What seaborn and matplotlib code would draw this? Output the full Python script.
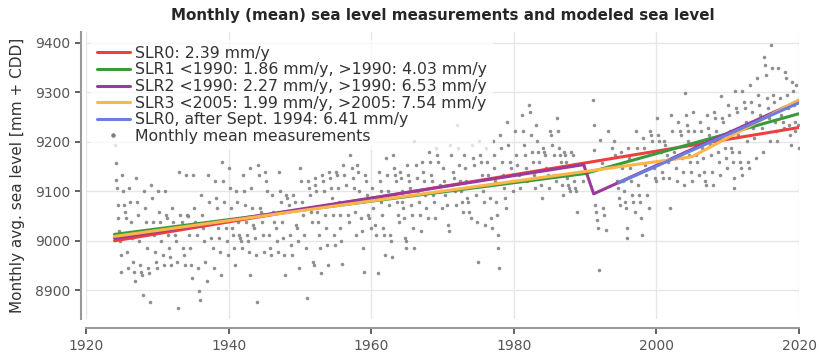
import matplotlib
matplotlib.use('Agg')
import matplotlib.pyplot as plt
import seaborn as sns
import pandas as pd

# monthly mean sea level [mm + CDD], one inner list per year
first_year_1920s = 1924
levels_1920s = [
    [9194, 9157, 9123, 9106, 9073, 9046, 9019, 8999, 8972, 8938],
    [9133, 9100, 9073, 9059, 9046, 9012, 8978, 8945],
    [9106, 9079, 9039, 9005, 8958, 8938, 8918],
    [9127, 9079, 9053, 8999, 8952, 8938, 8931, 8891],
    [9100, 9066, 9039, 8985, 8945, 8935, 8877],
    [9113, 9086, 9039, 9012, 8978, 8958, 8945],
]
first_year_1930s = 1930
levels_1930s = [
    [9100, 9059, 9039, 8999, 8972, 8952],
    [9100, 9053, 9046, 9012, 8985, 8968, 8952],
    [9066, 9039, 9012, 8999, 8958, 8864],
    [9140, 9053, 9039, 8985, 8972, 8952],
    [9133, 9053, 9050, 9012, 8985, 8952, 8925],
    [9133, 9066, 9039, 9012, 8945, 8898, 8880],
    [9093, 9053, 9026, 8999, 8958, 8918],
    [9133, 9079, 9039, 9005, 8985, 8945],
    [9120, 9086, 9066, 9026, 9005, 8978, 8931],
    [9160, 9120, 9079, 9026, 8999, 8972],
]
first_year_1940s = 1940
levels_1940s = [
    [9147, 9106, 9066, 9026, 9012, 8985, 8952],
    [9100, 9079, 9039, 9012, 9005, 8999, 8985],
    [9133, 9100, 9073, 9039, 9012, 8999, 8978, 8931],
    [9147, 9106, 9066, 9032, 9026, 9005, 8972, 8877],
    [9154, 9133, 9066, 9059, 9039, 9012, 8978],
    [9140, 9120, 9100, 9053, 9012, 8985, 8972],
    [9093, 9059, 9039, 9026, 8999, 8978],
    [9140, 9100, 9079, 9039, 9005, 8972, 8931],
    [9093, 9086, 9073, 9012, 8992, 8972],
    [9093, 9079, 9032, 9026, 8999, 8945],
]
first_year_1950s = 1950
levels_1950s = [
    [9147, 9120, 9079, 9053, 9012, 8985, 8884],
    [9120, 9106, 9093, 9059, 9039, 8958, 8952],
    [9127, 9113, 9100, 9059, 9039, 9012, 8985, 8935],
    [9133, 9120, 9100, 9053, 9026, 8992, 8952],
    [9140, 9127, 9106, 9086, 9053, 9012, 8992],
    [9140, 9133, 9106, 9079, 9053, 9026, 8999, 8953],
    [9154, 9133, 9113, 9079, 9053, 9039],
    [9174, 9147, 9127, 9106, 9059, 9012],
    [9154, 9140, 9100, 9046, 9019, 8985, 8938],
    [9133, 9120, 9093, 9053, 9046, 9026],
]
first_year_1960s = 1960
levels_1960s = [
    [9106, 9066, 9032, 9012, 8935],
    [9140, 9120, 9100, 9079, 9053, 9026, 9012, 8972],
    [9167, 9133, 9100, 9086, 9073, 9012, 8999, 8967],
    [9174, 9147, 9133, 9120, 9079, 9053, 9039],
    [9140, 9127, 9100, 9079, 9066, 9046, 9005, 8999, 8985],
    [9154, 9133, 9120, 9106, 9073, 9053, 9026, 8985],
    [9201, 9154, 9127, 9100, 9079, 9053, 9019],
    [9160, 9140, 9120, 9093, 9066, 9046],
    [9180, 9160, 9133, 9120, 9093, 9079, 9046],
    [9187, 9174, 9160, 9113, 9100, 9066],
]
first_year_1970s = 1970
levels_1970s = [
    [9147, 9120, 9093, 9073, 9032, 9019],
    [9194, 9174, 9140, 9127, 9100, 9073],
    [9234, 9187, 9154, 9120, 9100, 9079, 9059],
    [9174, 9147, 9120, 9086, 9079, 9059, 9046],
    [9194, 9167, 9154, 9120, 9093, 9039, 8958],
    [9201, 9174, 9160, 9133, 9100, 9079, 9032],
    [9187, 9160, 9133, 9113, 9086, 9046, 9026],
    [9201, 9174, 9147, 9120, 9079, 9053, 9012, 8985, 8945],
    [9214, 9187, 9160, 9133, 9106, 9086, 9066],
    [9241, 9194, 9160, 9147, 9120, 9100],
]
first_year_1980s = 1980
levels_1980s = [
    [9221, 9174, 9154, 9133, 9106],
    [9255, 9221, 9194, 9174, 9147, 9120],
    [9275, 9261, 9214, 9180, 9160, 9133, 9106],
    [9234, 9201, 9180, 9160, 9113, 9086],
    [9187, 9180, 9174, 9147, 9133, 9106],
    [9221, 9214, 9194, 9174, 9133, 9120],
    [9248, 9221, 9187, 9174, 9160, 9113, 9093],
    [9180, 9174, 9160, 9127, 9113, 9106, 9100],
    [9180, 9174, 9120, 9106, 9100, 9059],
    [9140, 9120],
]
first_year_1990s = 1991
levels_1990s = [
    [9285, 9234, 9184, 9073, 9059, 9042, 9026, 8941],
    [9204, 9157, 9066, 9053, 9022],
    [9221, 9187],
    [9201, 9174, 9120, 9106, 9086, 9073],
    [9180, 9147, 9120, 9100, 9079, 9066, 9026, 9005],
    [9187, 9167, 9147, 9120, 9093, 9079, 9059],
    [9221, 9187, 9113, 9093, 9079, 9046, 9012],
    [9207, 9187, 9154, 9133, 9093, 9066],
    [9221, 9214, 9201, 9180, 9147, 9127, 9120],
]
first_year_2000s = 2000
levels_2000s = [
    [9248, 9214, 9201, 9180, 9140, 9127],
    [9201, 9194, 9174, 9160, 9127, 9066],
    [9255, 9221, 9180, 9167, 9147, 9120],
    [9241, 9221, 9214, 9167, 9140, 9113],
    [9298, 9255, 9234, 9221, 9201, 9174, 9160, 9140, 9120],
    [9261, 9221, 9194, 9174, 9160, 9133],
    [9241, 9221, 9187, 9167, 9140, 9120, 9113],
    [9255, 9228, 9214, 9194, 9174, 9140, 9113],
    [9261, 9248, 9221, 9201, 9180, 9160, 9133],
    [9292, 9248, 9241, 9214, 9187, 9167, 9147],
]
first_year_2010s = 2010
levels_2010s = [
    [9275, 9255, 9221, 9187, 9180, 9160, 9127, 9106],
    [9302, 9268, 9261, 9214, 9180, 9160, 9147, 9133],
    [9302, 9281, 9268, 9241, 9201, 9160, 9147],
    [9315, 9281, 9261, 9228, 9207, 9167],
    [9329, 9295, 9275, 9255, 9228, 9180],
    [9372, 9356, 9335, 9288, 9268, 9248, 9201],
    [9396, 9349, 9295, 9281, 9241, 9221, 9201],
    [9349, 9288, 9255, 9241, 9228],
    [9342, 9329, 9295, 9268, 9234, 9214, 9194],
    [9322, 9302, 9275, 9241, 9221, 9315, 9281, 9234, 9187],
]

# modelled sea level, break points [year], [mm]
slr0_t = [1924, 2020]
slr0_v = [9000, 9229]
slr1_t = [1924, 1990, 2020]
slr1_v = [9013, 9136, 9257]
slr2_t = [1924, 1989.8, 1991.2, 2020]
slr2_v = [9005, 9154, 9095, 9283]
slr3_t = [1924, 2005, 2020]
slr3_v = [9009, 9170, 9285]
slr0b_t = [1994.7, 2020]
slr0b_v = [9117, 9279]

labels = ['SLR0: 2.39 mm/y',
          'SLR1 <1990: 1.86 mm/y, >1990: 4.03 mm/y',
          'SLR2 <1990: 2.27 mm/y, >1990: 6.53 mm/y',
          'SLR3 <2005: 1.99 mm/y, >2005: 7.54 mm/y',
          'SLR0, after Sept. 1994: 6.41 mm/y',
          'Monthly mean measurements']
colors = ['#ef3e3e', '#3a9a3a', '#9a3a9a', '#fbb54a', '#6b7ee0']

rows = []
for y0, block in [(first_year_1920s, levels_1920s), (first_year_1930s, levels_1930s),
                  (first_year_1940s, levels_1940s), (first_year_1950s, levels_1950s),
                  (first_year_1960s, levels_1960s), (first_year_1970s, levels_1970s),
                  (first_year_1980s, levels_1980s), (first_year_1990s, levels_1990s),
                  (first_year_2000s, levels_2000s), (first_year_2010s, levels_2010s)]:
    for i, vals in enumerate(block):
        for k, v in enumerate(vals):
            rows.append({'time': y0 + i + (k + 0.5) / len(vals), 'level': v})
df = pd.DataFrame(rows)

sns.set_theme(style='whitegrid', rc={'grid.color': '#e6e6e6', 'axes.edgecolor': '#999999',
                                     'xtick.bottom': True, 'ytick.left': True,
                                     'xtick.color': '#555555', 'ytick.color': '#555555',
                                     'axes.linewidth': 1.5})
plt.rcParams['font.family'] = ['DejaVu Sans']

fig = plt.figure(figsize=(8.19, 3.57), dpi=100)
ax = fig.add_axes([0.105, 0.1064, 0.8706, 0.8039])

sns.scatterplot(data=df, x='time', y='level', color='#7c7c7c', s=6.5, linewidth=0,
                alpha=0.85, ax=ax, legend=False, zorder=2)

handles = []
for (t, v), c, lab in zip([(slr0_t, slr0_v), (slr1_t, slr1_v), (slr2_t, slr2_v),
                           (slr3_t, slr3_v), (slr0b_t, slr0b_v)], colors, labels[:5]):
    h, = ax.plot(t, v, color=c, lw=2.2, label=lab, zorder=3)
    handles.append(h)
dot, = ax.plot([], [], 'o', color='#7c7c7c', ms=2.2, ls='none', label=labels[5])
handles.append(dot)

ax.set_xlim(1920, 2020)
ax.set_ylim(8842, 9422)
ax.set_xticks([1920, 1940, 1960, 1980, 2000, 2020])
ax.set_yticks([8900, 9000, 9100, 9200, 9300, 9400])
ax.tick_params(labelsize=10, length=4, width=1.3, pad=4, colors='#555555')
sns.despine(ax=ax, offset={'left': 3.6, 'bottom': 6.5})

ax.set_xlabel('')
ax.set_ylabel('Monthly avg. sea level [mm + CDD]', fontsize=11, color='#333333')
ax.yaxis.set_label_coords(-0.086, 0.5)
ax.set_title('Monthly (mean) sea level measurements and modeled sea level',
             fontsize=10.9, fontweight='bold', pad=9)

leg = ax.legend(handles=handles, loc='upper left', bbox_to_anchor=(0.0, 0.99),
                fontsize=11.3, handlelength=2.1, handletextpad=0.3, labelspacing=0.1,
                borderaxespad=0.3, frameon=True, framealpha=0.75, edgecolor='none')
for txt in leg.get_texts():
    txt.set_color('#333333')

fig.savefig('out.png', dpi=100)
